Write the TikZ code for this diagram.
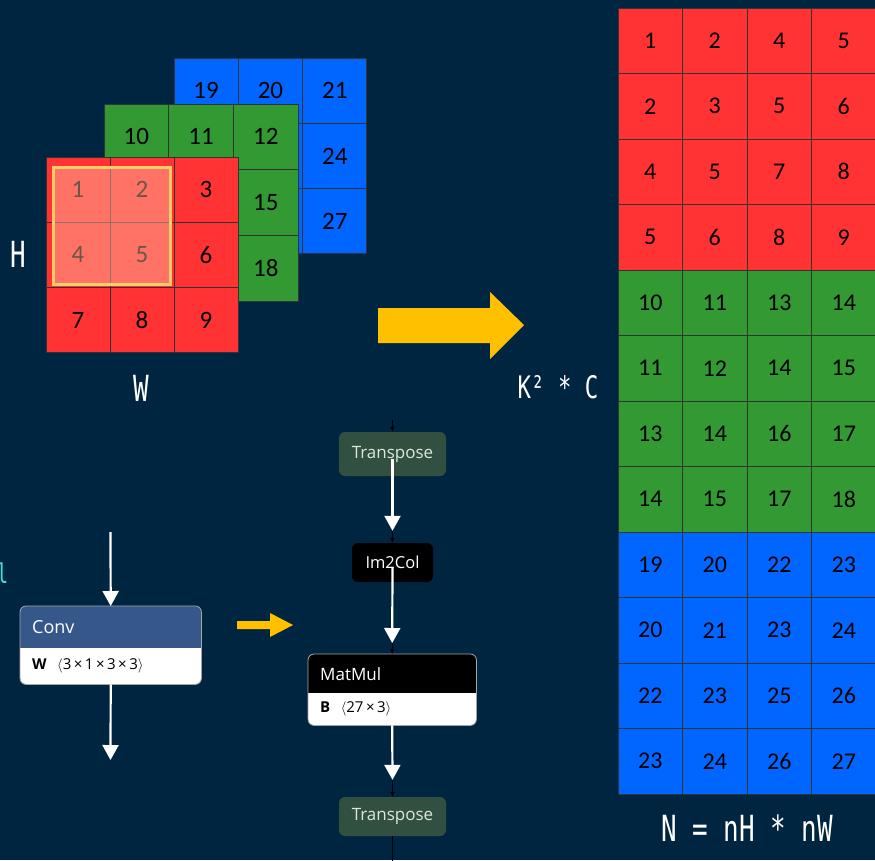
\documentclass[tikz,border=0pt]{standalone}
\usepackage{fontspec}
\setmainfont{Open Sans}
\newfontfamily\cellfont{Carlito}
\newfontfamily\labfont[FakeStretch=0.72]{DejaVu Sans Mono}
\usetikzlibrary{arrows.meta}
\definecolor{bg}{RGB}{0,37,64}
\definecolor{cR}{RGB}{255,51,51}
\definecolor{cG}{RGB}{51,153,51}
\definecolor{cB}{RGB}{0,102,255}
\definecolor{hl}{RGB}{255,204,102}
\definecolor{hlfill}{RGB}{255,205,175}
\definecolor{yel}{RGB}{255,192,0}
\definecolor{convblue}{RGB}{54,87,138}
\definecolor{tgreen}{RGB}{50,80,64}
\definecolor{tgtext}{RGB}{220,230,220}
\definecolor{cyanl}{RGB}{64,224,224}
\def\cellv#1{\if-#1\else#1\fi}
\begin{document}
\begin{tikzpicture}[x=1pt,y=-1pt,
  cell/.style={draw=black!80, line width=0.9pt, inner sep=0pt, text=black, font=\cellfont\fontsize{25}{25}\selectfont},
  lab/.style={text=white, inner sep=0pt, font=\labfont\fontsize{36}{36}\selectfont},
  warr/.style={draw=white, line width=2.2pt, -{Triangle[width=16pt,length=15pt]}},
  bstub/.style={draw=black, line width=1.2pt, -{Latex[length=5pt,width=5pt]}},
  ntext/.style={inner sep=0pt, anchor=west, font=\fontsize{16.5}{16.5}\selectfont},
  ]
\fill[bg] (0,0) rectangle (875,860);
\useasboundingbox (0,0) rectangle (875,860);

% ---------- right matrix ----------
\foreach \row [count=\i] in {{1,2,4,5},{2,3,5,6},{4,5,7,8},{5,6,8,9},{10,11,13,14},{11,12,14,15},{13,14,16,17},{14,15,17,18},{19,20,22,23},{20,21,23,24},{22,23,25,26},{23,24,26,27}} {
  \ifnum\i<5 \def\col{cR}\else\ifnum\i<9 \def\col{cG}\else\def\col{cB}\fi\fi
  \foreach \v [count=\j] in \row {
    \node[cell, fill=\col, minimum width=64.5pt, minimum height=65.5pt, font=\cellfont\fontsize{24}{24}\selectfont] (m-\i-\j) at ({618+64.5*(\j-0.5)},{7+65.5*(\i-0.5)+1}) {\v};
  }
}

% ---------- left cube ----------
\foreach \row [count=\i] in {{19,20,21},{-,-,24},{-,-,27}} {
  \foreach \v [count=\j] in \row {
    \node[cell, fill=cB, minimum width=64.3pt, minimum height=65.3pt] (b-\i-\j) at ({174+64.3*(\j-0.5)},{58+65.3*(\i-0.5)}) {\cellv{\v}};
  }
}
\foreach \row [count=\i] in {{10,11,12},{-,-,15},{-,-,18}} {
  \foreach \v [count=\j] in \row {
    \node[cell, fill=cG, minimum width=64.7pt, minimum height=65.7pt] (g-\i-\j) at ({104+64.7*(\j-0.5)},{104+65.7*(\i-0.5)}) {\cellv{\v}};
  }
}
\foreach \row [count=\i] in {{1,2,3},{4,5,6},{7,8,9}} {
  \foreach \v [count=\j] in \row {
    \node[cell, fill=cR, minimum width=64pt, minimum height=65.3pt] (r-\i-\j) at ({46+64*(\j-0.5)},{157+65.3*(\i-0.5)}) {\v};
  }
}
\node[draw=hl, line width=3pt, fill=hlfill, fill opacity=0.42, draw opacity=1, minimum width=117pt, minimum height=117pt, inner sep=0pt] (win) at (111.5,225.5) {};

% ---------- labels ----------
\node[lab] (H) at (18,254) {H};
\node[lab] (W) at (141,388) {W};
\node[lab, font=\labfont\fontsize{31}{31}\selectfont] (KC) at (558,387) {K² * C};
\node[lab] (N) at (747,828) {N = nH * nW};
\node[anchor=base west, inner sep=0pt, text=cyanl, font=\labfont\fontsize{27}{27}\selectfont] (cy) at (-3.5,583) {l};

% ---------- yellow arrows ----------
\fill[yel] (378,308) -- (490,308) -- (490,292) -- (524,325) -- (490,359) -- (490,343) -- (378,343) -- cycle;
\fill[yel] (237,621) -- (270,621) -- (270,613) -- (293,625) -- (270,637) -- (270,629) -- (237,629) -- cycle;

% ---------- Conv node ----------
\node[fill=white, rounded corners=6pt, minimum width=181pt, minimum height=78pt, inner sep=0pt, anchor=north west] (conv) at (20,606) {};
\begin{scope}
\clip[rounded corners=6pt] (conv.north west) rectangle (conv.south east);
\fill[convblue] (conv.north west) rectangle ([yshift=-42pt]conv.north east);
\end{scope}
\draw[gray!70, line width=0.8pt, rounded corners=6pt] (conv.north west) rectangle (conv.south east);
\node[ntext, text=white, font=\fontsize{18}{18}\selectfont] (convt) at ([xshift=12pt,yshift=-21pt]conv.north west) {Conv};
\node[ntext, text=black, font=\fontsize{15}{15}\selectfont] (convw) at ([xshift=12pt,yshift=-60pt]conv.north west) {\textbf{W}\hspace{0.7em}$\langle$3\,×\,1\,×\,3\,×\,3$\rangle$};

% ---------- MatMul node ----------
\node[fill=white, rounded corners=6pt, minimum width=168pt, minimum height=71pt, inner sep=0pt, anchor=north west] (mm) at (308,654) {};
\begin{scope}
\clip[rounded corners=6pt] (mm.north west) rectangle (mm.south east);
\fill[black] (mm.north west) rectangle ([yshift=-39pt]mm.north east);
\end{scope}
\draw[gray!70, line width=0.8pt, rounded corners=6pt] (mm.north west) rectangle (mm.south east);
\node[ntext, text=white, font=\fontsize{17}{17}\selectfont] (mmt) at ([xshift=12pt,yshift=-20pt]mm.north west) {MatMul};
\node[ntext, text=black, font=\fontsize{15}{15}\selectfont] (mmb) at ([xshift=12pt,yshift=-55pt]mm.north west) {\textbf{B}\hspace{0.7em}$\langle$27\,×\,3$\rangle$};

% ---------- other nodes ----------
\node[fill=tgreen, rounded corners=6pt, minimum width=107pt, minimum height=44pt, inner sep=0pt, text=tgtext, font=\fontsize{17}{17}\selectfont] (t1) at (392.5,454) {Transpose};
\node[fill=black, rounded corners=6pt, minimum width=81pt, minimum height=39pt, inner sep=0pt, text=white, font=\fontsize{16.5}{16.5}\selectfont] (im) at (392.5,562.5) {Im2Col};
\node[fill=tgreen, rounded corners=6pt, minimum width=107pt, minimum height=39pt, inner sep=0pt, text=tgtext, font=\fontsize{17}{17}\selectfont] (t2) at (392.5,816.5) {Transpose};

% ---------- connectors ----------
\coordinate (cin) at (110.5,532);
\coordinate (cout) at (110.5,760);
\coordinate (ttop) at (392.5,420);
\coordinate (tbot) at (392.5,862);
\draw[warr] (cin) -- (conv.north);
\draw[warr] (conv.south) -- (cout);

\draw[bstub] (ttop) -- (t1.north);
\draw[bstub] ([yshift=12pt]im.north) -- (im.north);
\draw[bstub] ([yshift=11pt]mm.north) -- (mm.north);
\draw[bstub] ([yshift=17pt]t2.north) -- (t2.north);
\draw[draw=black, line width=1.2pt] (t2.south) -- (tbot);
\draw[warr] ([yshift=-5pt]t1.center) -- ([yshift=12pt]im.north);
\draw[warr] ([yshift=-5pt]im.center) -- ([yshift=11pt]mm.north);
\draw[warr] (mm.south) -- ([yshift=17pt]t2.north);
\end{tikzpicture}
\end{document}
